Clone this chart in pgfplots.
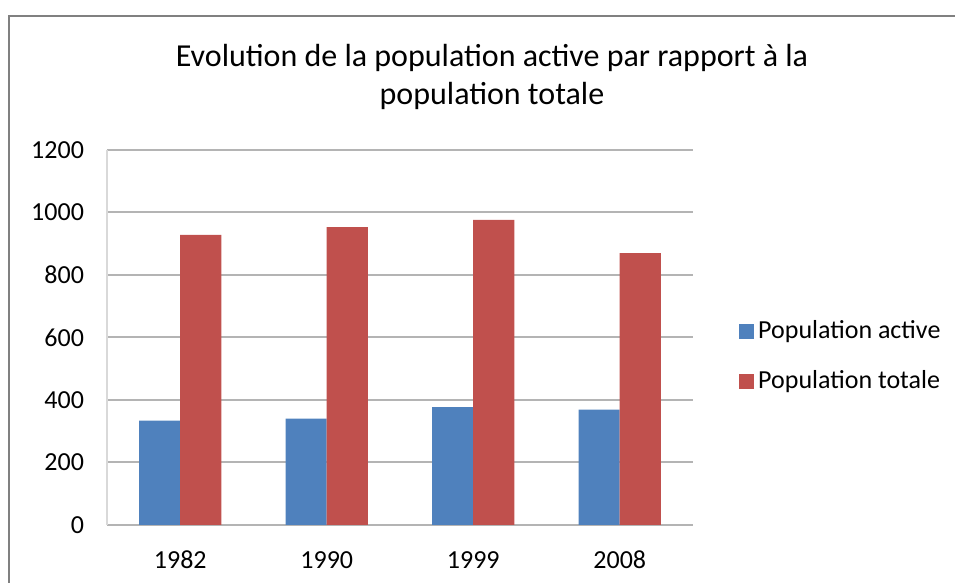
\documentclass[border=0pt]{standalone}
\usepackage{fontspec}
\setmainfont{Carlito}
\usepackage{pgfplots}
\pgfplotsset{compat=1.18}
\definecolor{xlblue}{HTML}{4F81BD}
\definecolor{xlred}{HTML}{C0504D}
\definecolor{gridc}{HTML}{B4B4B4}
\begin{document}
\begin{tikzpicture}
\useasboundingbox (0,0) rectangle (477.5pt,291.5pt);
\draw[color=black!50, line width=1pt] (4.5pt,-1pt) -- (4.5pt,283.5pt) -- (477.5pt,283.5pt);
\node[font=\fontsize{16}{19}\selectfont, align=center] at (246pt,253pt)
  {Evolution de la population active par rapport à la\\population totale};
\begin{axis}[
  at={(53.5pt,29pt)}, anchor=south west,
  scale only axis, width=293pt, height=187.5pt,
  ybar=0pt, bar width=0.28,
  xmin=-0.5, xmax=3.5, ymin=0, ymax=1200,
  xtick=data, xticklabels={1982,1990,1999,2008},
  ytick={0,200,...,1200},
  ymajorgrids, grid style={gridc, line width=1pt},
  axis x line*=bottom, axis y line*=left,
  x axis line style={gridc, line width=1pt, -},
  y axis line style={black!15, line width=1pt, -},
  major tick length=0pt,
  tick label style={font=\fontsize{13}{15}\selectfont},
  /pgf/number format/assume math mode=true,
  /pgf/number format/set thousands separator={},
  xticklabel style={yshift=-10pt, text height=8pt, text depth=0pt},
  yticklabel style={xshift=-8pt},
  legend style={at={(rel axis cs:1.068,0.45)}, anchor=west, draw=none, fill=none,
    font=\fontsize{13}{15}\selectfont, row sep=10.5pt,
    /tikz/every even column/.append style={column sep=2pt}},
  legend cell align=left,
  legend image code/.code={\fill[#1, draw=none] (0pt,-3.75pt) rectangle (7.5pt,3.75pt);},
]
\addplot[fill=xlblue, draw=none] coordinates {(0,334) (1,340) (2,377) (3,369)};
\addplot[fill=xlred, draw=none] coordinates {(0,928) (1,953) (2,976) (3,870)};
\legend{Population active, Population totale}
\end{axis}
\end{tikzpicture}
\end{document}
